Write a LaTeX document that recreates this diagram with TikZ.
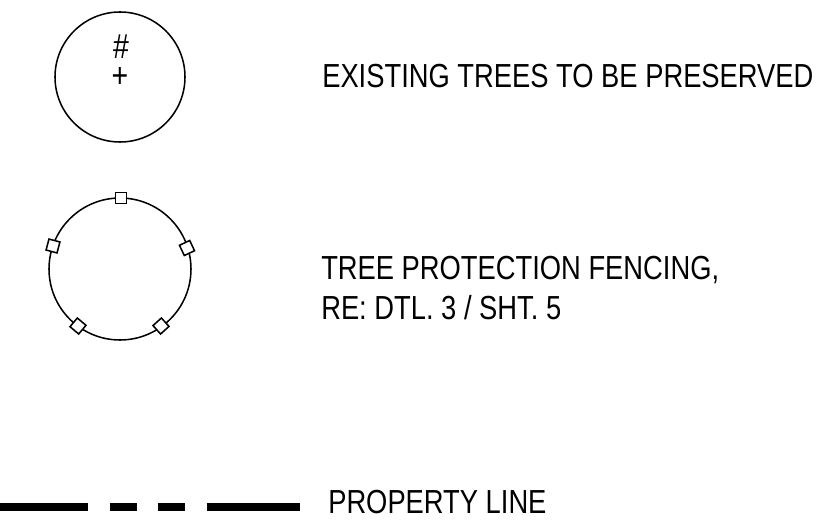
\documentclass[tikz,border=0pt]{standalone}
\usepackage{fontspec}
\setmainfont[FakeStretch=0.82]{Liberation Sans}
\usetikzlibrary{positioning}
\begin{document}
\begin{tikzpicture}[
        x=0.75pt, y=-0.75pt,
        tree/.style={circle, draw, line width=1.15pt, inner sep=0pt},
        post/.style={rectangle, draw, fill=white, line width=1.15pt, minimum size=8.5pt, inner sep=0pt},
        legend/.style={anchor=base west, font=\fontsize{25}{30}\selectfont, inner sep=0pt, align=left},
        prop/.style={line width=5.7pt}
    ]
        \useasboundingbox (0,0) rectangle (829,531);
        % trees
        \node[tree, minimum size=97.5pt] (T) at (120,77) {};
        \node[inner sep=0pt, font=\fontsize{26}{30}\selectfont] (H) at (121,47) {\#};
        \node[inner sep=0pt, font=\fontsize{26}{30}\selectfont] (P) at (120,77) {+};
        \node[legend] (A) at (322,88) {EXISTING TREES TO BE PRESERVED};
        % fencing
        \node[tree, minimum size=106.5pt] (F) at (120,269) {};
        \node[post] (F1) at (121,198) {};
        \node[post, rotate=-15] (F2) at (53,246) {};
        \node[post, rotate=25] (F3) at (187,248) {};
        \node[post, rotate=-40] (F4) at (78,326) {};
        \node[post, rotate=42] (F5) at (161,326) {};
        \node[legend] (B) at (321,320) {TREE PROTECTION FENCING,\\RE: DTL. 3 / SHT. 5};
        % property line
        \coordinate (a0) at (0,507);
        \coordinate (a1) at (87.7,507);
        \coordinate (b0) at (109.5,507);
        \coordinate (b1) at (136.5,507);
        \coordinate (c0) at (157.7,507);
        \coordinate (c1) at (185,507);
        \coordinate (d0) at (206.7,507);
        \coordinate (d1) at (300,507);
        \draw[prop] (a0) -- (a1);
        \draw[prop] (b0) -- (b1);
        \draw[prop] (c0) -- (c1);
        \draw[prop] (d0) -- (d1);
        \node[legend] (C) at (328,513) {PROPERTY LINE};
    \end{tikzpicture}
\end{document}
